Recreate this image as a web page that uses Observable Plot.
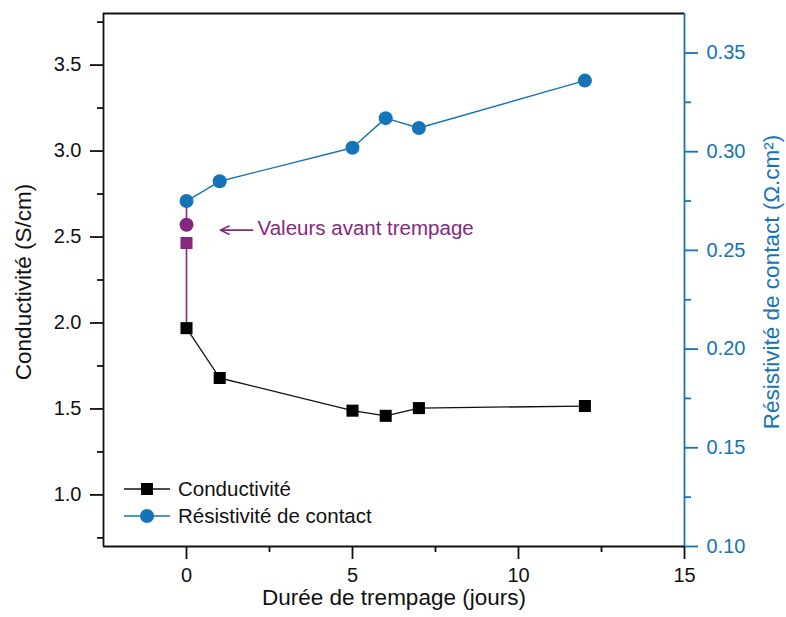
<!DOCTYPE html>
<html><head><meta charset="utf-8">
<script src="https://cdn.jsdelivr.net/npm/d3@7"></script>
<script src="https://cdn.jsdelivr.net/npm/@observablehq/plot@0.6"></script>
<style>
body{margin:0;background:#fff;font-family:"Liberation Sans",Arial,sans-serif;}
#wrap{position:relative;width:786px;height:617px;}
#legend{position:absolute;left:124px;top:475px;font-size:20.5px;line-height:27px;color:#111;}
#legend div{display:flex;align-items:center;}
#legend svg{margin-right:8px;}
</style></head>
<body><div id="wrap"><div id="chart"></div>
<div id="legend"></div></div>
<script>
// ---- data ----
const days = [0, 1, 5, 6, 7, 12];
const conductivity = [1.97, 1.68, 1.49, 1.46, 1.505, 1.517];
const resistivity = [0.275, 0.285, 0.302, 0.317, 0.312, 0.336];
const beforeDay = [0];
const beforeConductivity = [2.465];
const beforeResistivity = [0.263];
const xTicks = [0, 5, 10, 15];
const xMinor = [2.5, 7.5, 12.5];
const leftTicks = [1.0, 1.5, 2.0, 2.5, 3.0, 3.5];
const leftMinor = [0.75, 1.25, 1.75, 2.25, 2.75, 3.25, 3.75];
const rightTicks = [0.10, 0.15, 0.20, 0.25, 0.30, 0.35];
const rightMinor = [0.125, 0.175, 0.225, 0.275, 0.325];
const annotationText = ["Valeurs avant trempage"];
const annotationArrow = [{x1: 1.99, x2: 1.02, y: 2.54}];
const seriesNames = ["Conductivité", "Résistivité de contact"];
const xTitle = ["Durée de trempage (jours)"];
const leftTitle = ["Conductivité (S/cm)"];
const rightTitle = ["Résistivité de contact (Ω.cm²)"];

// ---- scales ----
const xDomain = [-2.5, 15];
const leftDomain = [0.7, 3.8];
const rightDomain = [0.10, 0.37];
const toLeft = r => leftDomain[0] + (r - rightDomain[0]) * (leftDomain[1] - leftDomain[0]) / (rightDomain[1] - rightDomain[0]);
const fromLeft = v => rightDomain[0] + (v - leftDomain[0]) * (rightDomain[1] - rightDomain[0]) / (leftDomain[1] - leftDomain[0]);

const BLUE = "#1574b8";
const PURPLE = "#85287f";

const cond = days.map((d, i) => ({x: d, y: conductivity[i]}));
const res = days.map((d, i) => ({x: d, y: toLeft(resistivity[i])}));
const beforeC = beforeDay.map((d, i) => ({x: d, y: beforeConductivity[i]}));
const beforeR = beforeDay.map((d, i) => ({x: d, y: toLeft(beforeResistivity[i])}));

const chart = Plot.plot({
  width: 786, height: 617,
  marginLeft: 103, marginRight: 102, marginTop: 13, marginBottom: 71,
  style: {fontSize: "20px", fontFamily: "'Liberation Sans', Arial, sans-serif", color: "#111", background: "#fff"},
  x: {domain: xDomain},
  y: {domain: leftDomain},
  marks: [
    // purple connectors
    Plot.link([0], {x1: () => beforeDay[0], x2: () => days[0], y1: () => beforeConductivity[0], y2: () => conductivity[0], stroke: PURPLE, strokeWidth: 1.6}),
    Plot.link([0], {x1: () => beforeDay[0], x2: () => days[0], y1: () => toLeft(beforeResistivity[0]), y2: () => toLeft(resistivity[0]), stroke: PURPLE, strokeWidth: 1.6}),
    Plot.line(cond, {x: "x", y: "y", stroke: "#111", strokeWidth: 1.3}),
    Plot.line(res, {x: "x", y: "y", stroke: BLUE, strokeWidth: 1.4}),
    Plot.dot(cond, {x: "x", y: "y", symbol: "square", r: 6.8, fill: "#000"}),
    Plot.dot(res, {x: "x", y: "y", symbol: "circle", r: 7, fill: BLUE}),
    Plot.dot(beforeC, {x: "x", y: "y", symbol: "square", r: 6.8, fill: PURPLE}),
    Plot.dot(beforeR, {x: "x", y: "y", symbol: "circle", r: 7, fill: PURPLE}),
    // annotation
    Plot.arrow(annotationArrow, {x1: "x1", x2: "x2", y1: "y", y2: "y", stroke: PURPLE, strokeWidth: 1.6, headLength: 9, headAngle: 50}),
    Plot.text(annotationText, {x: () => 2.14, y: () => 2.55, text: d => d, fill: PURPLE, textAnchor: "start", fontSize: 20.5}),
    // frame
    Plot.ruleY([leftDomain[1]], {stroke: "#111", strokeWidth: 1.8}),
    Plot.ruleY([leftDomain[0]], {stroke: "#111", strokeWidth: 1.8}),
    Plot.ruleX([xDomain[0]], {stroke: "#111", strokeWidth: 1.8}),
    Plot.ruleX([xDomain[1]], {stroke: BLUE, strokeWidth: 1.8}),
    // axes
    Plot.axisX(xTicks, {anchor: "bottom", tickSize: 13, tickPadding: 8, strokeWidth: 1.8, stroke: "#111", label: null}),
    Plot.axisX(xMinor, {anchor: "bottom", tickSize: 6, tickFormat: () => "", strokeWidth: 1.8, stroke: "#111", label: null}),
    Plot.axisY(leftTicks, {anchor: "left", tickSize: 13, tickPadding: 9, strokeWidth: 1.8, stroke: "#111", tickFormat: d => d.toFixed(1), label: null}),
    Plot.axisY(leftMinor, {anchor: "left", tickSize: 6, tickFormat: () => "", strokeWidth: 1.8, stroke: "#111", label: null}),
    Plot.axisY(rightTicks.map(toLeft), {anchor: "right", tickSize: 13, tickPadding: 9, strokeWidth: 1.8, color: BLUE,
      tickFormat: v => fromLeft(v).toFixed(2), label: null}),
    Plot.axisY(rightMinor.map(toLeft), {anchor: "right", tickSize: 6, tickFormat: () => "", strokeWidth: 1.8, color: BLUE, label: null}),
    // axis titles
    Plot.text(xTitle, {text: d => d, frameAnchor: "bottom", dy: 58, fontSize: 22.5, fill: "#111"}),
    Plot.text(leftTitle, {text: d => d, frameAnchor: "left", textAnchor: "middle", rotate: -90, dx: -80, dy: 2, fontSize: 22.5, fill: "#111"}),
    Plot.text(rightTitle, {text: d => d, frameAnchor: "right", textAnchor: "middle", rotate: -90, dx: 87, dy: 2, fontSize: 22.5, fill: BLUE})
  ]
});
document.getElementById("chart").appendChild(chart);

// legend
const legend = document.getElementById("legend");
const sym = [
  `<svg width="46" height="16"><line x1="0" y1="8" x2="46" y2="8" stroke="#111" stroke-width="1.5"/><rect x="17" y="2" width="12" height="12" fill="#000"/></svg>`,
  `<svg width="46" height="16"><line x1="0" y1="8" x2="46" y2="8" stroke="${BLUE}" stroke-width="1.5"/><circle cx="23" cy="8" r="7" fill="${BLUE}"/></svg>`
];
seriesNames.forEach((n, i) => {
  const row = document.createElement("div");
  row.innerHTML = sym[i] + `<span>${n}</span>`;
  legend.appendChild(row);
});
</script></body></html>
